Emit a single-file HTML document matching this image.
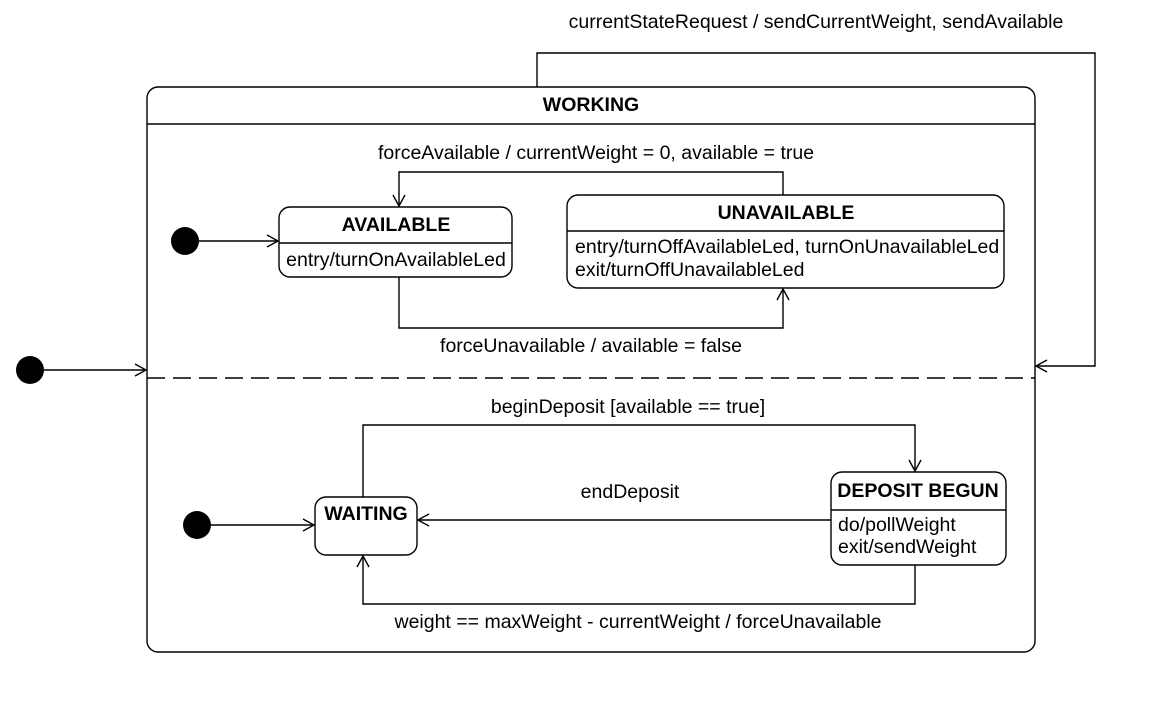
<!DOCTYPE html>
<html><head><meta charset="utf-8"><style>html,body{margin:0;padding:0;background:#fff}svg{display:block}text{font-family:"Liberation Sans",Arial,sans-serif;font-size:19.5px;fill:#000}</style></head>
<body>
<svg width="1156" height="712" viewBox="0 0 1156 712" xmlns="http://www.w3.org/2000/svg">
<defs>
<marker id="a" markerWidth="14" markerHeight="14" refX="12" refY="7" orient="auto" markerUnits="userSpaceOnUse">
<path d="M1,1 L12,7 L1,13" fill="none" stroke="#000" stroke-width="1.4"/>
</marker>
</defs>
<g fill="none" stroke="#000" stroke-width="1.4">
<rect x="147" y="87" width="888" height="565" rx="11" fill="#fff"/>
<line x1="147" y1="124" x2="1035" y2="124"/>
<line x1="147" y1="378" x2="1035" y2="378" stroke-dasharray="18,8"/>
<path d="M537,87 V53 H1095 V366 H1036" marker-end="url(#a)"/>
<line x1="44" y1="370" x2="146" y2="370" marker-end="url(#a)"/>
<rect x="279" y="207" width="233" height="70" rx="11" fill="#fff"/>
<line x1="279" y1="243" x2="512" y2="243"/>
<line x1="199" y1="241" x2="278" y2="241" marker-end="url(#a)"/>
<rect x="567" y="195" width="437" height="93" rx="11" fill="#fff"/>
<line x1="567" y1="231" x2="1004" y2="231"/>
<path d="M783,195 V172 H399 V206" marker-end="url(#a)"/>
<path d="M399,277 V328 H783 V289" marker-end="url(#a)"/>
<rect x="315" y="497" width="102" height="58" rx="11" fill="#fff"/>
<line x1="211" y1="525" x2="314" y2="525" marker-end="url(#a)"/>
<rect x="831" y="472" width="175" height="93" rx="11" fill="#fff"/>
<line x1="831" y1="510" x2="1006" y2="510"/>
<path d="M363,497 V425 H915 V471" marker-end="url(#a)"/>
<line x1="831" y1="520" x2="418" y2="520" marker-end="url(#a)"/>
<path d="M915,565 V604 H363 V556" marker-end="url(#a)"/>
</g>
<circle cx="30" cy="370" r="14" fill="#000"/>
<circle cx="185" cy="241" r="14" fill="#000"/>
<circle cx="197" cy="525" r="14" fill="#000"/>
<text x="816" y="28" text-anchor="middle">currentStateRequest / sendCurrentWeight, sendAvailable</text>
<text x="591" y="111" text-anchor="middle" font-weight="bold">WORKING</text>
<text x="596" y="159" text-anchor="middle">forceAvailable / currentWeight = 0, available = true</text>
<text x="396" y="231" text-anchor="middle" font-weight="bold">AVAILABLE</text>
<text x="396" y="266" text-anchor="middle">entry/turnOnAvailableLed</text>
<text x="786" y="219" text-anchor="middle" font-weight="bold">UNAVAILABLE</text>
<text x="575" y="253">entry/turnOffAvailableLed, turnOnUnavailableLed</text>
<text x="575" y="276">exit/turnOffUnavailableLed</text>
<text x="591" y="352" text-anchor="middle">forceUnavailable / available = false</text>
<text x="628" y="413" text-anchor="middle">beginDeposit [available == true]</text>
<text x="366" y="520" text-anchor="middle" font-weight="bold">WAITING</text>
<text x="630" y="498" text-anchor="middle">endDeposit</text>
<text x="918" y="497" text-anchor="middle" font-weight="bold">DEPOSIT BEGUN</text>
<text x="838" y="531">do/pollWeight</text>
<text x="838" y="553">exit/sendWeight</text>
<text x="638" y="628" text-anchor="middle">weight == maxWeight - currentWeight / forceUnavailable</text>
</svg>
</body></html>
